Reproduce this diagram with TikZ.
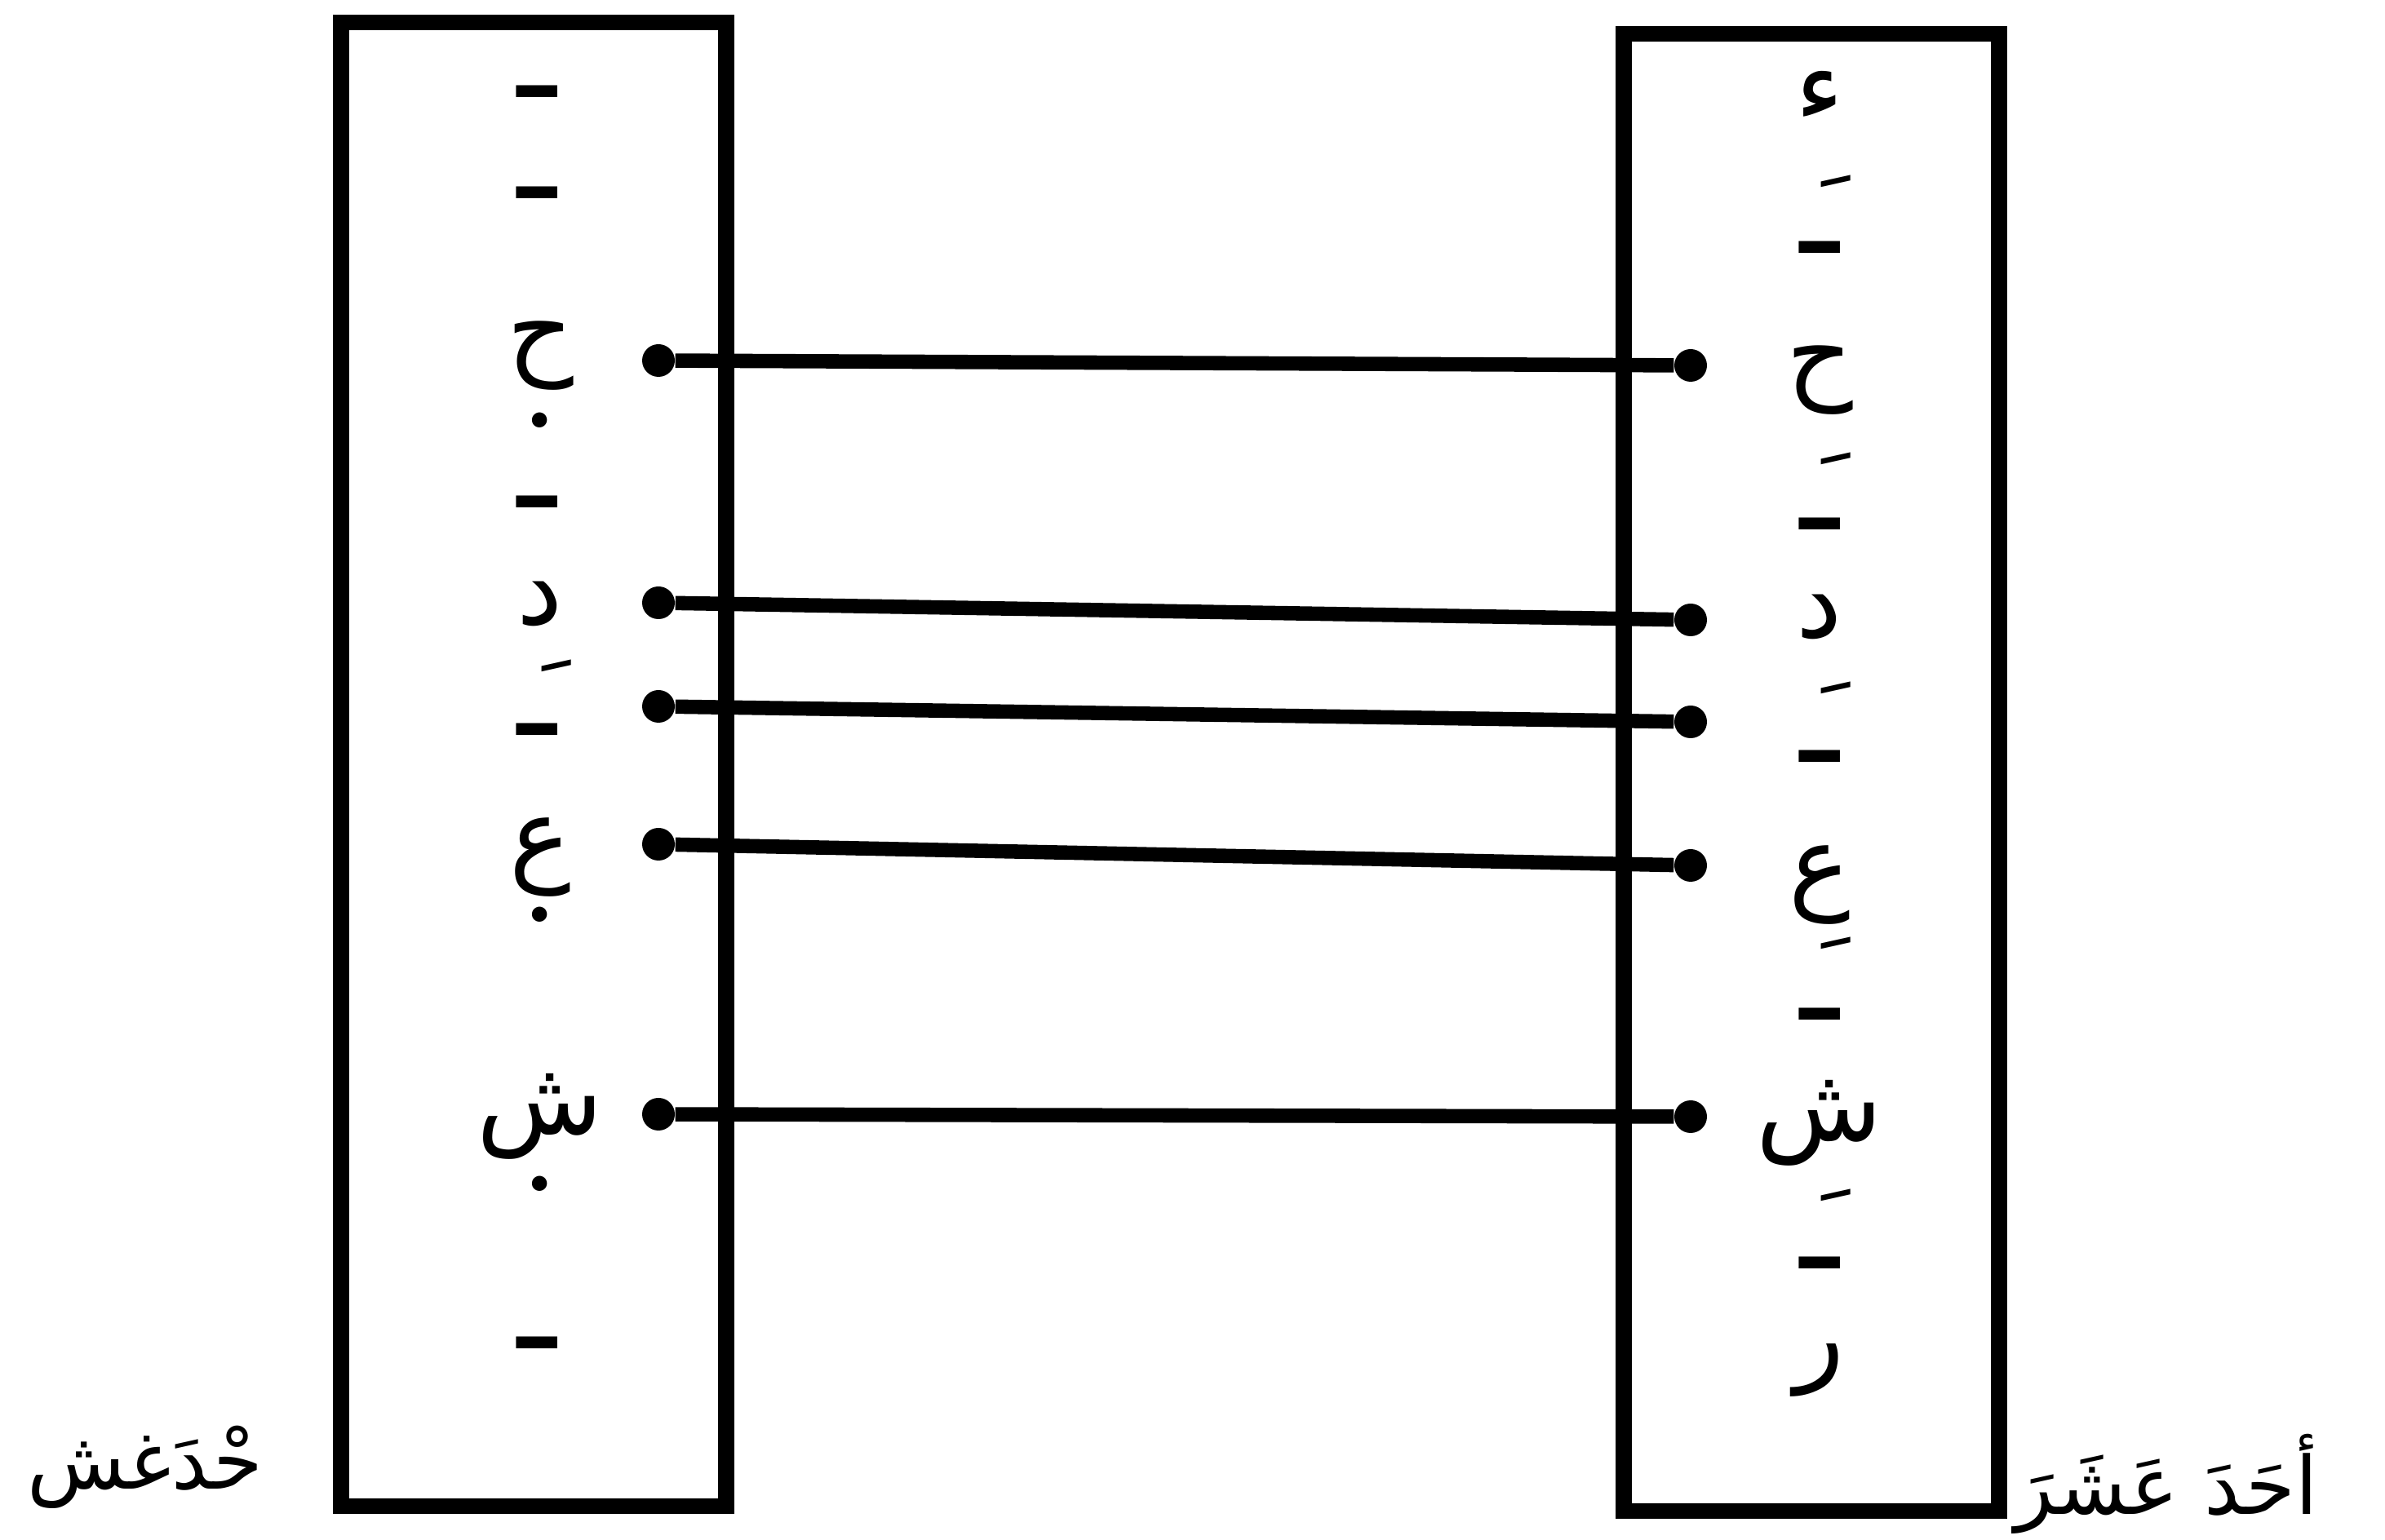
\documentclass[tikz,border=0pt]{standalone}
\usepackage{fontspec}
\newfontfamily\arabicfont[Script=Arabic]{DejaVu Sans}
\TeXXeTstate=1
\newcommand{\ar}[1]{\arabicfont\beginR #1\endR}

\begin{document}
\begin{tikzpicture}[
          column/.style={rectangle, draw=black, line width=5.5pt, minimum width=4.72cm, minimum height=18.19cm, inner sep=0pt},
          glyph/.style={inner sep=0pt, font=\fontsize{36}{40}\selectfont},
          kashida/.style={inner sep=0pt, font=\fontsize{46}{50}\selectfont},
          haraka/.style={inner sep=0pt, anchor=base, xshift=-0.12cm, yshift=-0.75cm, font=\fontsize{36}{40}\selectfont},
          spot/.style={inner sep=0pt, font=\fontsize{64}{64}\selectfont},
          knob/.style={circle, fill=black, inner sep=0pt, minimum size=0.4cm},
          link/.style={line width=5pt},
          caption/.style={inner sep=0pt, font=\fontsize{28}{34}\selectfont}]
        \useasboundingbox (0,0) rectangle (29.23,18.87);

        \node [column] (lbox) at (6.54,9.50) {};
        \node [column, minimum width=4.60cm, minimum height=18.11cm] (rbox) at (22.20,9.40) {};

        % letters, left column
        \foreach \t/\y [count=\i] in {ح/14.51, د/11.47, ع/8.36, ش/5.18}
          \node [glyph] (lt\i) at (6.62,\y) {\ar{\t}};
        \foreach \y [count=\i] in {17.75, 16.51, 12.72, 9.93, 2.41}
          \node [kashida] (lk\i) at (6.58,\y) {\ar{ـ}};
        \foreach \y [count=\i] in {13.72, 7.66, 4.36}
          \node [spot] (ld\i) at (6.62,\y) {.};
        \node [haraka] (lf1) at (6.62,10.63) {\ar{َ}};

        % letters, right column
        \foreach \t/\y [count=\i] in {ء/17.69, ح/14.21, د/11.31, ع/8.02, ش/5.10, ر/2.07}
          \node [glyph] (rt\i) at (22.30,\y) {\ar{\t}};
        \foreach \y [count=\i] in {15.84, 12.45, 9.60, 6.44, 3.39}
          \node [kashida] (rk\i) at (22.30,\y) {\ar{ـ}};
        \foreach \y [count=\i] in {16.57, 13.17, 10.36, 7.23, 4.14}
          \node [haraka] (rf\i) at (22.30,\y) {\ar{َ}};

        % links
        \foreach \a/\b [count=\i] in {14.45/14.39, 11.48/11.27, 10.21/10.02, 8.52/8.26, 5.21/5.18} {
          \node [knob] (lp\i) at (8.07,\a) {};
          \node [knob] (rp\i) at (20.72,\b) {};
          \draw [link] (lp\i) -- (rp\i);
        }

        \node [caption] (lcap) at (1.78,0.88) {\ar{حْدَغش}};
        \node [caption] (rcap) at (26.55,0.68) {\ar{أحَدَ عَشَرَ}};
      \end{tikzpicture}
\end{document}
